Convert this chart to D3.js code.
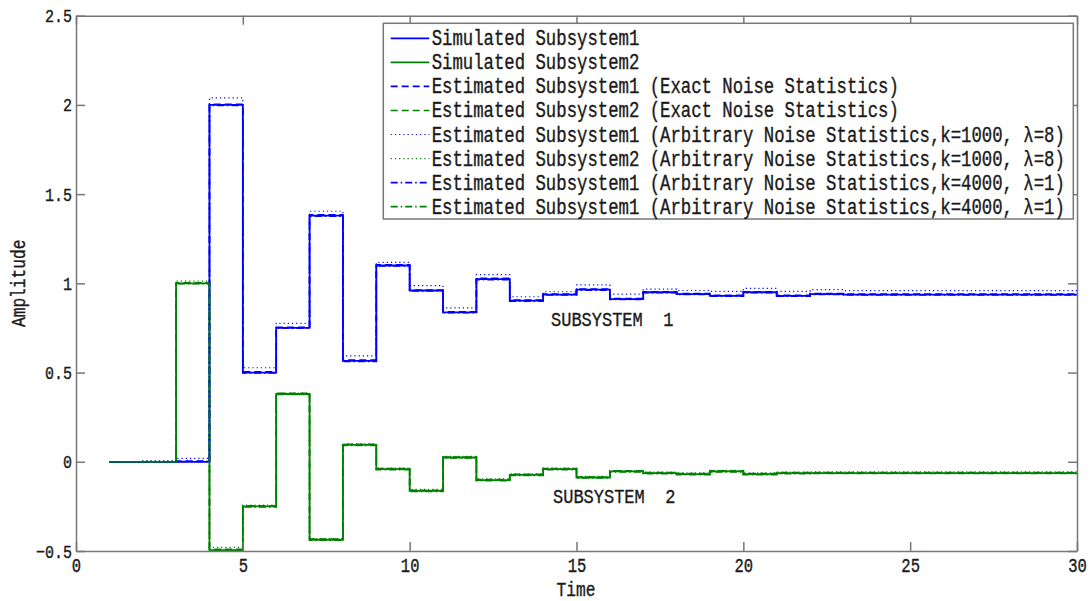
<!DOCTYPE html>
<html>
<head>
<meta charset="utf-8">
<script src="https://cdn.jsdelivr.net/npm/d3@7"></script>
<style>
  html, body { margin: 0; padding: 0; background: #fff; }
  svg { display: block; font-family: 'Liberation Mono', 'DejaVu Sans Mono', monospace; }
  text { fill: #1a1a1a; stroke: #1a1a1a; stroke-width: 0.3px; }
</style>
</head>
<body>
<svg id="chart"></svg>
<script>
// time index k = 1..30 (stairs)
const timeSteps = [1, 2, 3, 4, 5, 6, 7, 8, 9, 10, 11, 12, 13, 14, 15,
  16, 17, 18, 19, 20, 21, 22, 23, 24, 25, 26, 27, 28, 29, 30];

const simulated1 = [0, 0, 0, 2.0, 0.50, 0.75, 1.38, 0.566, 1.10, 0.96,
  0.837, 1.024, 0.903, 0.937, 0.965, 0.912, 0.95, 0.94, 0.93, 0.95,
  0.93, 0.94, 0.937, 0.937, 0.937, 0.937, 0.937, 0.937, 0.937, 0.937];
const simulated2 = [0, 0, 1.0, -0.495, -0.25, 0.38, -0.437, 0.095, -0.041, -0.163,
  0.024, -0.103, -0.073, -0.041, -0.088, -0.054, -0.064, -0.069, -0.054, -0.069,
  -0.064, -0.063, -0.063, -0.063, -0.063, -0.063, -0.063, -0.063, -0.063, -0.063];

// exact noise statistics (dashed), sits on top of the simulated curves
const exact1 = [0, 0, 0.004, 2.004, 0.505, 0.754, 1.384, 0.57, 1.104, 0.963,
  0.84, 1.028, 0.906, 0.94, 0.968, 0.915, 0.953, 0.943, 0.933, 0.953,
  0.933, 0.943, 0.94, 0.94, 0.94, 0.94, 0.94, 0.94, 0.94, 0.94];
const exact2 = [0, 0, 1.003, -0.49, -0.246, 0.384, -0.433, 0.098, -0.038, -0.16,
  0.027, -0.1, -0.07, -0.038, -0.085, -0.051, -0.061, -0.066, -0.051, -0.066,
  -0.061, -0.06, -0.06, -0.06, -0.06, -0.06, -0.06, -0.06, -0.06, -0.06];

// arbitrary noise statistics, k=1000, lambda=8 (dotted)
const arb1000_1 = [0, 0.005, 0.019, 2.04, 0.527, 0.776, 1.404, 0.593, 1.118, 0.987,
  0.862, 1.049, 0.925, 0.953, 0.991, 0.94, 0.968, 0.96, 0.955, 0.972,
  0.955, 0.965, 0.959, 0.959, 0.959, 0.959, 0.959, 0.959, 0.959, 0.959];
const arb1000_2 = [0, 0.005, 1.012, -0.48, -0.243, 0.385, -0.43, 0.10, -0.036, -0.155,
  0.03, -0.095, -0.068, -0.036, -0.082, -0.05, -0.058, -0.062, -0.048, -0.062,
  -0.058, -0.057, -0.057, -0.057, -0.057, -0.057, -0.057, -0.057, -0.057, -0.057];

// arbitrary noise statistics, k=4000, lambda=1 (dash-dot)
const arb4000_1 = [0, 0, 0.002, 1.997, 0.498, 0.748, 1.377, 0.563, 1.097, 0.958,
  0.835, 1.021, 0.9, 0.935, 0.962, 0.91, 0.947, 0.938, 0.928, 0.947,
  0.928, 0.938, 0.935, 0.935, 0.935, 0.935, 0.935, 0.935, 0.935, 0.935];
const arb4000_2 = [0, 0, 0.998, -0.497, -0.253, 0.377, -0.44, 0.092, -0.044, -0.166,
  0.021, -0.106, -0.076, -0.044, -0.091, -0.057, -0.067, -0.072, -0.057, -0.072,
  -0.067, -0.066, -0.066, -0.066, -0.066, -0.066, -0.066, -0.066, -0.066, -0.066];

const seriesNames = [
  'Simulated Subsystem1',
  'Simulated Subsystem2',
  'Estimated Subsystem1 (Exact Noise Statistics)',
  'Estimated Subsystem2 (Exact Noise Statistics)',
  'Estimated Subsystem1 (Arbitrary Noise Statistics,k=1000, \u03bb=8)',
  'Estimated Subsystem2 (Arbitrary Noise Statistics,k=1000, \u03bb=8)',
  'Estimated Subsystem1 (Arbitrary Noise Statistics,k=4000, \u03bb=1)',
  'Estimated Subsystem1 (Arbitrary Noise Statistics,k=4000, \u03bb=1)',
];

const xTicks = [0, 5, 10, 15, 20, 25, 30];
const yTicks = [-0.5, 0, 0.5, 1, 1.5, 2, 2.5];
const yTickLabels = ['\u22120.5', '0', '0.5', '1', '1.5', '2', '2.5'];

const BLUE = '#0000ff';
const GREEN = '#008000';

const W = 1090, H = 601;
const plot = { left: 76, right: 1077, top: 15.7, bottom: 551 };
const TICK = 9;

const svg = d3.select('#chart').attr('width', W).attr('height', H);

const x = d3.scaleLinear().domain([0, 30]).range([plot.left, plot.right]);
const y = d3.scaleLinear().domain([-0.5, 2.5]).range([plot.bottom, plot.top]);

// line styles per series, in plotting order
const styles = [
  { values: simulated1, color: BLUE, width: 1.8, dash: null },
  { values: simulated2, color: GREEN, width: 1.8, dash: null },
  { values: exact1, color: BLUE, width: 1.6, dash: '7,4' },
  { values: exact2, color: GREEN, width: 1.6, dash: '7,4' },
  { values: arb1000_1, color: BLUE, width: 1.2, dash: '1.2,3' },
  { values: arb1000_2, color: GREEN, width: 1.2, dash: '1.2,3' },
  { values: arb4000_1, color: BLUE, width: 1.6, dash: '7,3,1.5,3' },
  { values: arb4000_2, color: GREEN, width: 1.6, dash: '7,3,1.5,3' },
];

const stairs = d3.line()
  .x(d => x(d[0]))
  .y(d => y(d[1]))
  .curve(d3.curveStepAfter);

svg.append('g')
  .attr('class', 'series')
  .selectAll('path')
  .data(styles)
  .enter()
  .append('path')
  .attr('d', s => stairs(timeSteps.map((t, i) => [t, s.values[i]])))
  .attr('fill', 'none')
  .attr('stroke', s => s.color)
  .attr('stroke-width', s => s.width)
  .attr('stroke-dasharray', s => s.dash)
  .attr('stroke-linejoin', 'miter');

// axes box with inward ticks on all four sides
const axisColor = '#777';
const bottomAxis = svg.append('g')
  .attr('class', 'x-axis')
  .attr('transform', `translate(0,${plot.bottom})`)
  .call(d3.axisBottom(x).tickValues(xTicks).tickSize(-TICK).tickSizeOuter(0).tickPadding(0));
svg.append('g')
  .attr('transform', `translate(0,${plot.top})`)
  .call(d3.axisTop(x).tickValues(xTicks).tickSize(-TICK).tickSizeOuter(0).tickFormat(''));
const leftAxis = svg.append('g')
  .attr('class', 'y-axis')
  .attr('transform', `translate(${plot.left},0)`)
  .call(d3.axisLeft(y).tickValues(yTicks).tickSize(-TICK).tickSizeOuter(0)
    .tickFormat((d, i) => yTickLabels[i]));
svg.append('g')
  .attr('transform', `translate(${plot.right},0)`)
  .call(d3.axisRight(y).tickValues(yTicks).tickSize(-TICK).tickSizeOuter(0).tickFormat(''));

svg.selectAll('.domain, .tick line')
  .attr('stroke', axisColor)
  .attr('stroke-width', 1.5);

// tick labels: tall narrow glyphs like the original
bottomAxis.selectAll('text')
  .attr('fill', '#1a1a1a')
  .style('font-size', '15.5px')
  .style('font-family', "'Liberation Mono', monospace")
  .attr('dy', null)
  .attr('y', 21 / 1.28)
  .attr('transform', 'scale(1,1.28)');
leftAxis.selectAll('text')
  .attr('fill', '#1a1a1a')
  .style('font-size', '15px')
  .style('font-family', "'Liberation Mono', monospace")
  .attr('dy', null)
  .attr('x', -4)
  .attr('y', 6 / 1.25)
  .attr('transform', 'scale(1,1.25)');

function tallText(parent, str, tx, ty, size, sy, anchor, rotate) {
  return parent.append('text')
    .attr('transform', `translate(${tx},${ty})${rotate ? ` rotate(${rotate})` : ''} scale(1,${sy})`)
    .attr('text-anchor', anchor)
    .style('font-size', `${size}px`)
    .text(str);
}

// axis labels
tallText(svg, 'Time', 576, 595.5, 16.2, 1.25, 'middle');
tallText(svg, 'Amplitude', 25, (plot.top + plot.bottom) / 2, 16.2, 1.3, 'middle', -90);

// annotations
tallText(svg, 'SUBSYSTEM  1', 551, 325.5, 17, 1.2, 'start').style('white-space', 'pre');
tallText(svg, 'SUBSYSTEM  2', 553, 502.5, 17, 1.2, 'start').style('white-space', 'pre');

// legend
const legend = svg.append('g').attr('class', 'legend');
const lg = { x0: 383.3, x1: 1073.3, y0: 23.3, y1: 219, row0: 38.3, rowH: 24.05 };
legend.append('rect')
  .attr('x', lg.x0)
  .attr('y', lg.y0)
  .attr('width', lg.x1 - lg.x0)
  .attr('height', lg.y1 - lg.y0)
  .attr('fill', '#fff')
  .attr('stroke', axisColor)
  .attr('stroke-width', 1.5);

const rows = legend.selectAll('.row')
  .data(styles)
  .enter()
  .append('g')
  .attr('class', 'row')
  .attr('transform', (d, i) => `translate(0,${lg.row0 + i * lg.rowH})`);
rows.append('line')
  .attr('x1', 390.7)
  .attr('x2', 429.3)
  .attr('stroke', d => d.color)
  .attr('stroke-width', d => d.width)
  .attr('stroke-dasharray', d => d.dash);
rows.append('text')
  .attr('transform', 'translate(431.7,7) scale(1,1.25)')
  .style('font-size', '17.3px')
  .style('white-space', 'pre')
  .text((d, i) => seriesNames[i]);
</script>
</body>
</html>
